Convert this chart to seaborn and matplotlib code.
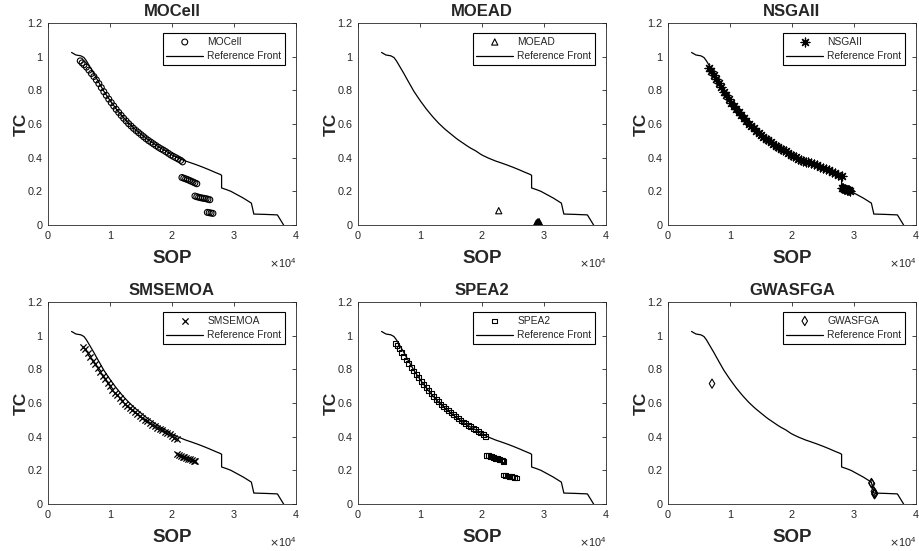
import matplotlib
matplotlib.use('Agg')
import matplotlib.pyplot as plt
import matplotlib.ticker as mticker
import seaborn as sns

sns.set_style('white')
plt.rcParams['font.family'] = ['Liberation Sans', 'DejaVu Sans']

# reference front
ref_sop = [3800, 4500, 5300, 5800,
           6200, 6600, 7000, 7400, 7800, 8200, 8600, 9000, 9400, 9800, 10200, 10600,
           11000, 11400, 11800, 12200, 12600, 13000, 13400, 13800, 14200, 14600, 15000,
           15400, 15800, 16200, 16600, 17000, 17400, 17800, 18200, 18600, 19000, 19400,
           19800, 20200, 20600, 21000, 21400, 21800, 22200, 22600, 23000,
           24000, 25000, 26000, 27000, 27800, 28000, 28000, 28800, 29500, 30500, 31500,
           32800, 33200, 35000, 37000, 38000]
ref_tc = [1.025, 1.01, 1.005, 0.995,
          0.975, 0.95, 0.925, 0.90, 0.873, 0.847, 0.821, 0.795, 0.773, 0.751, 0.73, 0.71,
          0.69, 0.672, 0.654, 0.637, 0.621, 0.605, 0.591, 0.577, 0.564, 0.552, 0.54,
          0.528, 0.516, 0.505, 0.495, 0.485, 0.475, 0.465, 0.456, 0.448, 0.44, 0.43,
          0.42, 0.412, 0.405, 0.398, 0.392, 0.386, 0.38, 0.375, 0.37,
          0.357, 0.343, 0.328, 0.312, 0.30, 0.295, 0.22, 0.21, 0.20, 0.18, 0.16,
          0.13, 0.065, 0.063, 0.06, 0.0]

# MOCell
mocell_sop = [5200, 5500, 5800, 6200, 6600, 7000, 7400, 7800, 8200, 8600, 9000, 9400,
              9800, 10200, 10600, 11000, 11400, 11800, 12200, 12600, 13000, 13400, 13800,
              14200, 14600, 15000, 15400, 15800, 16200, 16600, 17000, 17400, 17800, 18200,
              18600, 19000, 19400, 19800, 20200, 20600, 21000, 21400, 21700,
              21600, 21900, 22200, 22500, 22800, 23100, 23400, 23700, 24000,
              23700, 24000, 24300, 24600, 24900, 25200, 25500, 25800, 26100,
              25700, 26000, 26300, 26600]
mocell_tc = [0.975, 0.963, 0.952, 0.938, 0.92, 0.90, 0.882, 0.862, 0.84, 0.816, 0.792, 0.77,
             0.748, 0.727, 0.707, 0.687, 0.669, 0.651, 0.634, 0.618, 0.602, 0.588, 0.574,
             0.561, 0.549, 0.537, 0.525, 0.513, 0.502, 0.492, 0.482, 0.472, 0.462, 0.453,
             0.445, 0.436, 0.426, 0.416, 0.408, 0.400, 0.392, 0.384, 0.375,
             0.282, 0.278, 0.274, 0.27, 0.265, 0.26, 0.255, 0.25, 0.245,
             0.172, 0.168, 0.165, 0.162, 0.16, 0.158, 0.156, 0.153, 0.15,
             0.075, 0.073, 0.071, 0.069]

# MOEAD
moead_sop = [22700, 28700, 28800, 28900, 29000, 29100, 29200, 29300, 29400, 29000, 29200]
moead_tc = [0.085, 0.005, 0.012, 0.0, 0.018, 0.006, 0.012, 0.0, 0.004, 0.008, 0.02]

# NSGAII
nsga_sop = [6600, 7000, 7400, 7800, 8200, 8600, 9000, 9400, 9800, 10200, 10600, 11000,
            11400, 11800, 12200, 12600, 13000, 13400, 13800, 14200, 14600, 15000, 15400,
            15800, 16200, 16600, 17000, 17400, 17800, 18200, 18600, 19000, 19400, 19800,
            20200, 20600, 21000, 21400, 21800, 22200, 22600, 23000,
            23500, 24000, 24500, 25000, 25500, 26000, 26500, 27000, 27500, 28000,
            28000, 28200, 28400, 28600, 28800, 29000, 29200, 29400]
nsga_tc = [0.935, 0.912, 0.892, 0.868, 0.843, 0.818, 0.792, 0.77, 0.748, 0.727, 0.707, 0.687,
           0.669, 0.651, 0.634, 0.618, 0.602, 0.588, 0.574, 0.561, 0.549, 0.537, 0.525,
           0.513, 0.502, 0.492, 0.482, 0.472, 0.462, 0.453, 0.445, 0.437, 0.427, 0.417,
           0.409, 0.402, 0.395, 0.389, 0.383, 0.377, 0.372, 0.367,
           0.36, 0.354, 0.347, 0.34, 0.333, 0.325, 0.317, 0.309, 0.30, 0.292,
           0.22, 0.217, 0.214, 0.211, 0.209, 0.207, 0.205, 0.203]

# SMSEMOA
sms_sop = [5700, 6000, 6400, 6800, 7200, 7600, 8000, 8400, 8800, 9200, 9600, 10000,
           10400, 10800, 11200, 11600, 12000, 12400, 12800, 13200, 13600, 14000, 14400,
           14800, 15200, 15600, 16000, 16400, 16800, 17200, 17600, 18000, 18400, 18800,
           19200, 19600, 20000, 20400, 20800,
           20800, 21100, 21400, 21700, 22000, 22300, 22600, 22900, 23200, 23500, 23700]
sms_tc = [0.935, 0.918, 0.896, 0.874, 0.852, 0.83, 0.81, 0.786, 0.762, 0.74, 0.72, 0.70,
          0.68, 0.662, 0.645, 0.628, 0.612, 0.597, 0.583, 0.57, 0.557, 0.545, 0.534,
          0.523, 0.512, 0.501, 0.491, 0.481, 0.472, 0.463, 0.454, 0.445, 0.437, 0.429,
          0.421, 0.413, 0.404, 0.395, 0.386,
          0.295, 0.29, 0.286, 0.282, 0.278, 0.274, 0.27, 0.266, 0.262, 0.258, 0.255]

# SPEA2
spea_sop = [6000, 6300, 6600, 7000, 7400, 7800, 8200, 8600, 9000, 9400, 9800, 10200,
            10600, 11000, 11400, 11800, 12200, 12600, 13000, 13400, 13800, 14200, 14600,
            15000, 15400, 15800, 16200, 16600, 17000, 17400, 17800, 18200, 18600, 19000,
            19400, 19800, 20200, 20500,
            20700, 21000, 21300, 21600, 21900, 22200, 22500, 22800, 23100, 23400, 23500,
            23500, 23800, 24100, 24400, 24700, 25000, 25300, 25600]
spea_tc = [0.955, 0.94, 0.922, 0.90, 0.878, 0.856, 0.834, 0.812, 0.79, 0.77, 0.75, 0.73,
           0.71, 0.69, 0.672, 0.655, 0.638, 0.622, 0.607, 0.593, 0.579, 0.566, 0.554,
           0.542, 0.53, 0.518, 0.507, 0.497, 0.487, 0.477, 0.467, 0.458, 0.45, 0.442,
           0.432, 0.422, 0.412, 0.402,
           0.29, 0.287, 0.284, 0.28, 0.276, 0.272, 0.268, 0.265, 0.261, 0.257, 0.253,
           0.172, 0.168, 0.166, 0.164, 0.162, 0.16, 0.158, 0.155]

# GWASFGA
gwas_sop = [7100, 32800, 32900, 33200, 33300, 33300, 33400]
gwas_tc = [0.715, 0.125, 0.12, 0.075, 0.065, 0.058, 0.062]

panels = [
    ('MOCell', mocell_sop, mocell_tc, 'o', True, 18),
    ('MOEAD', moead_sop, moead_tc, '^', True, 20),
    ('NSGAII', nsga_sop, nsga_tc, (8, 2, 0), False, 40),
    ('SMSEMOA', sms_sop, sms_tc, 'x', False, 20),
    ('SPEA2', spea_sop, spea_tc, 's', True, 12),
    ('GWASFGA', gwas_sop, gwas_tc, 'd', True, 22),
]

W, H = 920, 551
fig = plt.figure(figsize=(W / 100, H / 100), dpi=100)
lefts = [48, 358, 668]
tops = [23, 302]
aw, ah = 248, 202

for i, (name, sop, tc, mk, hollow, size) in enumerate(panels):
    r, c = divmod(i, 3)
    ax = fig.add_axes([lefts[c] / W, 1 - (tops[r] + ah) / H, aw / W, ah / H])
    if hollow:
        sns.scatterplot(x=sop, y=tc, marker=mk, s=size, color='none', edgecolor='k',
                        linewidth=0.8, label=name, ax=ax, zorder=3)
    else:
        sns.scatterplot(x=sop, y=tc, marker=mk, s=size, color='k',
                        linewidth=0.9, label=name, ax=ax, zorder=3)
    sns.lineplot(x=ref_sop, y=ref_tc, sort=False, estimator=None, color='k',
                 linewidth=0.9, label='Reference Front', ax=ax)

    ax.set_xlim(0, 40000)
    ax.set_ylim(0, 1.2)
    ax.set_xticks([0, 10000, 20000, 30000, 40000])
    ax.set_yticks([0, 0.2, 0.4, 0.6, 0.8, 1.0, 1.2])
    ax.xaxis.set_major_formatter(mticker.FuncFormatter(lambda v, p: f'{v / 1e4:g}'))
    ax.yaxis.set_major_formatter(mticker.FuncFormatter(lambda v, p: f'{v:g}'))
    ax.tick_params(direction='in', length=3, width=0.6, top=True, right=True,
                   labelsize=7.8, pad=4, color='#262626', labelcolor='#262626')
    for sp in ax.spines.values():
        sp.set_linewidth(0.6)
        sp.set_color('#262626')

    ax.set_title(name, fontsize=12, fontweight='bold', pad=5)
    ax.set_xlabel('SOP', fontsize=13.5, fontweight='bold', labelpad=7)
    ax.set_ylabel('TC', fontsize=12.5, fontweight='bold', labelpad=-1)
    ax.text(1.0, -0.19, r'$\times\mathregular{10^4}$', transform=ax.transAxes,
            ha='right', va='center', fontsize=7.8, color='#262626')

    leg = ax.legend(loc='upper right', bbox_to_anchor=(0.956, 0.95), borderaxespad=0,
                    fontsize=7.4, frameon=True, fancybox=False, framealpha=1,
                    edgecolor='k', handlelength=3.6, handletextpad=0.4,
                    labelspacing=0.45, borderpad=0.35, scatterpoints=1)
    leg.get_frame().set_linewidth(0.8)

fig.savefig('out.png', dpi=100)
